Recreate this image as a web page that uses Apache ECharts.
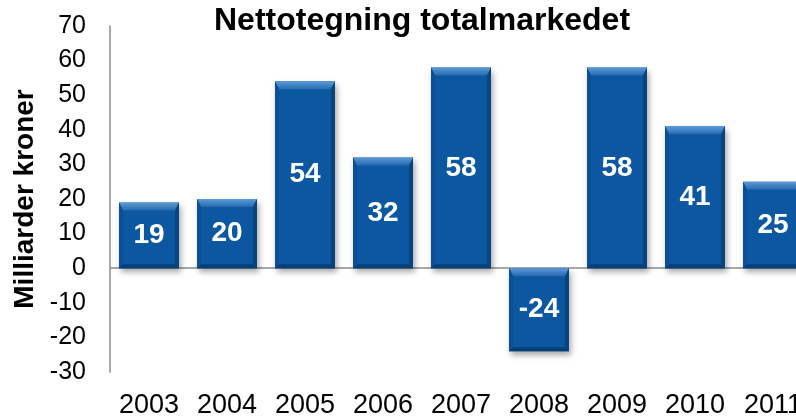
<!DOCTYPE html>
<html>
<head>
<meta charset="utf-8">
<script src="https://cdn.jsdelivr.net/npm/echarts@6/dist/echarts.min.js"></script>
<style>
  html, body { margin: 0; padding: 0; background: #fff; overflow: hidden; }
  /* the original chart is cut off at the right edge, so the canvas is wider than the window */
  #chart { width: 812px; height: 416px; }
</style>
</head>
<body>
<div id="chart"></div>
<script>
// data
const years = ["2003", "2004", "2005", "2006", "2007", "2008", "2009", "2010", "2011"];
const values = [19, 20, 54, 32, 58, -24, 58, 41, 25];
const yTicks = { min: -30, max: 70, step: 10 };

const FONT = "'Liberation Sans', Arial, sans-serif";
const BAR_W = 60;

// bevel edges drawn on top of every bar
const renderBevel = (params, api) => {
  const i = api.value(0);
  const v = api.value(1);
  const p0 = api.coord([i, 0]);
  const p1 = api.coord([i, v]);
  const x0 = p0[0] - BAR_W / 2;
  const x1 = x0 + BAR_W;
  const yt = Math.min(p0[1], p1[1]);
  const yb = Math.max(p0[1], p1[1]);
  const b = 8; // top bevel
  const s = 4; // side bevel
  return {
    type: "group",
    children: [
      {
        type: "polygon",
        shape: { points: [[x0, yt], [x1, yt], [x1 - s, yt + b], [x0 + s, yt + b]] },
        style: {
          fill: new echarts.graphic.LinearGradient(0, 0, 0, 1, [
            { offset: 0, color: "#5e9bd6" },
            { offset: 1, color: "#2569b0" },
          ]),
        },
      },
      {
        type: "polygon",
        shape: { points: [[x0, yt], [x0 + s, yt + b], [x0 + s, yb - s], [x0, yb]] },
        style: { fill: "#0a4f93" },
      },
      {
        type: "polygon",
        shape: { points: [[x1, yt], [x1 - s, yt + b], [x1 - s, yb - s], [x1, yb]] },
        style: { fill: "#08457f" },
      },
      {
        type: "polygon",
        shape: { points: [[x0, yb], [x0 + s, yb - s], [x1 - s, yb - s], [x1, yb]] },
        style: { fill: "#063f76" },
      },
    ],
  };
};

const chart = echarts.init(document.getElementById("chart"));
chart.setOption({
  animation: false,
  title: {
    text: "Nettotegning totalmarkedet",
    left: 214,
    top: 5,
    padding: 0,
    textStyle: { fontFamily: FONT, fontSize: 32, fontWeight: "bold", color: "#000" },
  },
  grid: { left: 110, right: 0, top: 26, bottom: 44, outerBoundsMode: "none" },
  xAxis: [
    {
      type: "category",
      data: years,
      position: "bottom",
      axisLine: { show: false, onZero: false },
      axisTick: { show: false },
      axisLabel: { interval: 0, margin: 20, fontFamily: FONT, fontSize: 27, color: "#000" },
    },
    {
      type: "category",
      data: years,
      axisLine: { show: true, onZero: true, lineStyle: { color: "#8c8c8c", width: 1.5 } },
      axisTick: { show: false },
      axisLabel: { show: false },
    },
  ],
  yAxis: {
    type: "value",
    min: yTicks.min,
    max: yTicks.max,
    interval: yTicks.step,
    name: "Milliarder kroner",
    nameLocation: "middle",
    nameRotate: 90,
    nameGap: 71,
    nameTextStyle: { fontFamily: FONT, fontSize: 28, fontWeight: "bold", color: "#000" },
    axisLine: { show: true, lineStyle: { color: "#8c8c8c", width: 1.5 } },
    axisTick: { show: false },
    splitLine: { show: false },
    axisLabel: { margin: 24, fontFamily: FONT, fontSize: 25, color: "#000" },
  },
  series: [
    {
      type: "bar",
      data: values,
      barWidth: BAR_W,
      itemStyle: {
        color: "#0b57a0",
        shadowBlur: 6,
        shadowOffsetX: 2,
        shadowOffsetY: 4,
        shadowColor: "rgba(0,0,0,0.35)",
      },
      label: {
        show: true,
        position: "inside",
        fontFamily: FONT,
        fontSize: 28,
        fontWeight: "bold",
        color: "#fff",
      },
    },
    {
      type: "custom",
      renderItem: renderBevel,
      data: values.map((v, i) => [i, v]),
      silent: true,
      z: 3,
    },
  ],
});
</script>
</body>
</html>
